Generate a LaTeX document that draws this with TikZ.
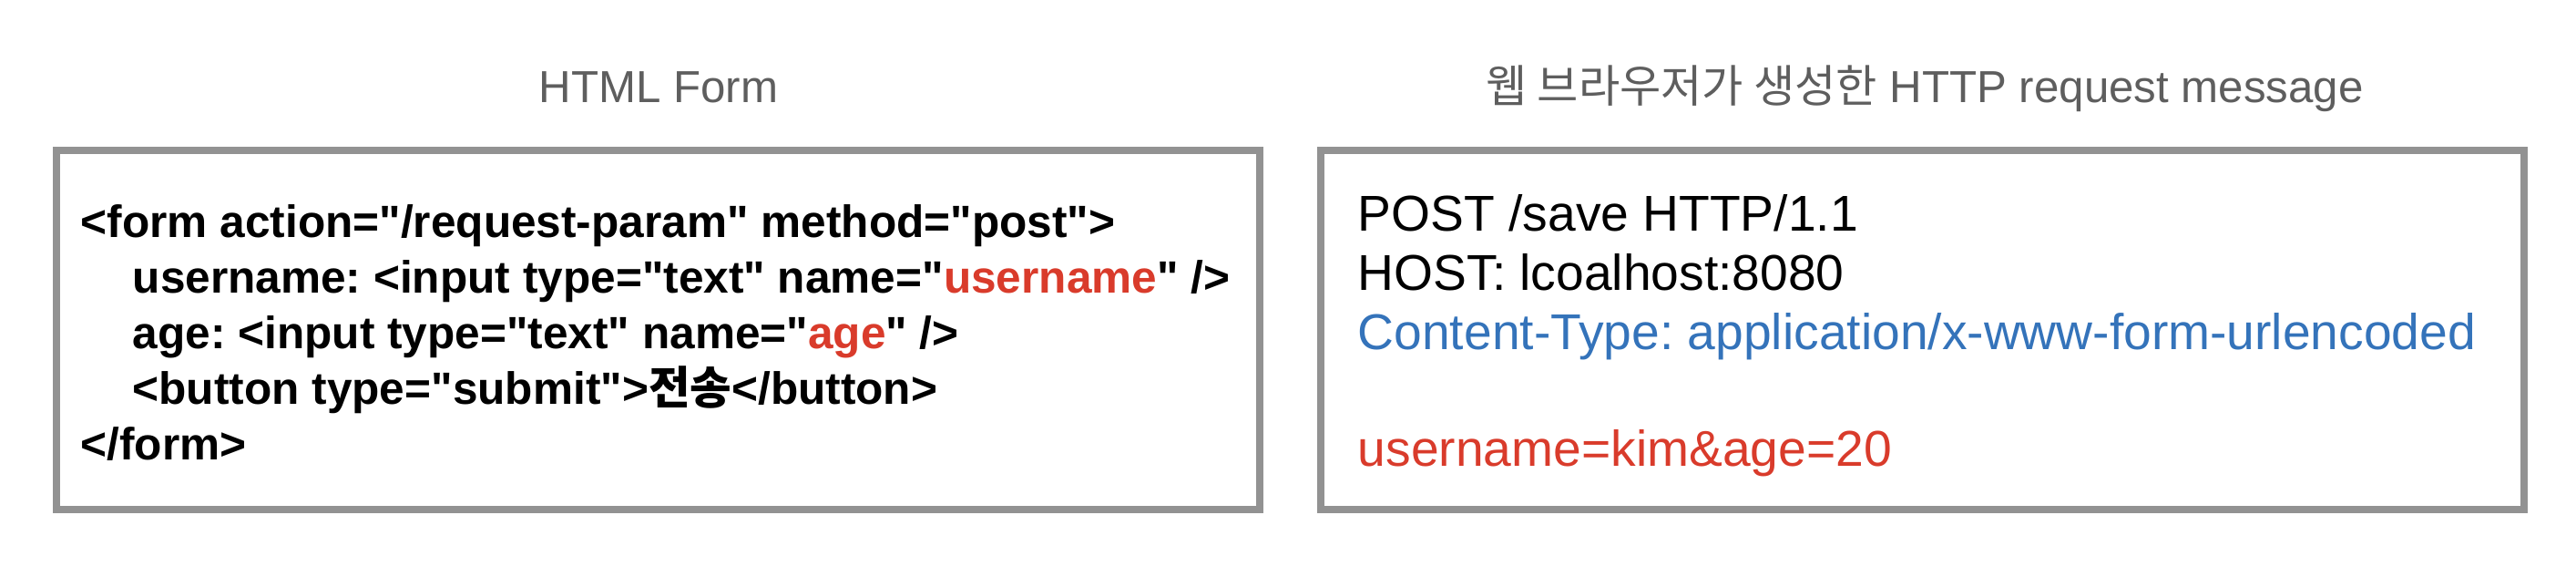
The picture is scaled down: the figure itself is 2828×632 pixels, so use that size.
\documentclass[tikz,border=0pt]{standalone}
\usepackage{fontspec}
\setmainfont{Liberation Sans}[Ligatures=TeXOff]
\newfontfamily\krfont{Noto Sans CJK KR}
\definecolor{framegray}{HTML}{929292}
\definecolor{titlegray}{HTML}{5E5E5E}
\definecolor{paramred}{HTML}{D93B2B}
\definecolor{typeblue}{HTML}{3473BA}
\frenchspacing

\begin{document}
\begin{tikzpicture}[x=0.01cm,y=-0.01cm]

        \useasboundingbox (0,0) rectangle (2828,632);

        \begin{scope}[every node/.style={anchor=base,inner sep=0pt,text=titlegray,font=\fontsize{14}{17}\selectfont}]
          \node (formtitle) at (723,112) {HTML Form};
          \node (msgtitle)  at (2113,112) {{\krfont 웹 브라우저가 생성한} HTTP request message};
        \end{scope}

        \draw[framegray,line width=0.08cm] (62,165)   rectangle (1383,559);
        \draw[framegray,line width=0.08cm] (1450,165) rectangle (2771,559);

        \begin{scope}[every node/.style={anchor=base west,inner sep=0pt,font=\fontsize{14.1}{17}\selectfont\bfseries}]
          \node (form)   at (88,260)  {<form action="/request-param" method="post">};
          \node (user)   at (145,321) {username: <input type="text" name="\textcolor{paramred}{username}" />};
          \node (age)    at (145,382) {age: <input type="text" name="\textcolor{paramred}{age}" />};
          \node (button) at (145,443) {<button type="submit">{\krfont\bfseries 전송}</button>};
          \node (endform) at (88,504) {</form>};
        \end{scope}

        \begin{scope}[every node/.style={anchor=base west,inner sep=0pt,font=\fontsize{15.7}{19}\selectfont}]
          \node (post)    at (1490,253) {POST /save HTTP/1.1};
          \node (host)    at (1490,318) {HOST: lcoalhost:8080};
          \node (ctype)   at (1490,383) [text=typeblue] {Content-Type: application/x-www-form-urlencoded};
          \node (body)    at (1490,511) [text=paramred] {username=kim\&age=20};
        \end{scope}

      \end{tikzpicture}
\end{document}
